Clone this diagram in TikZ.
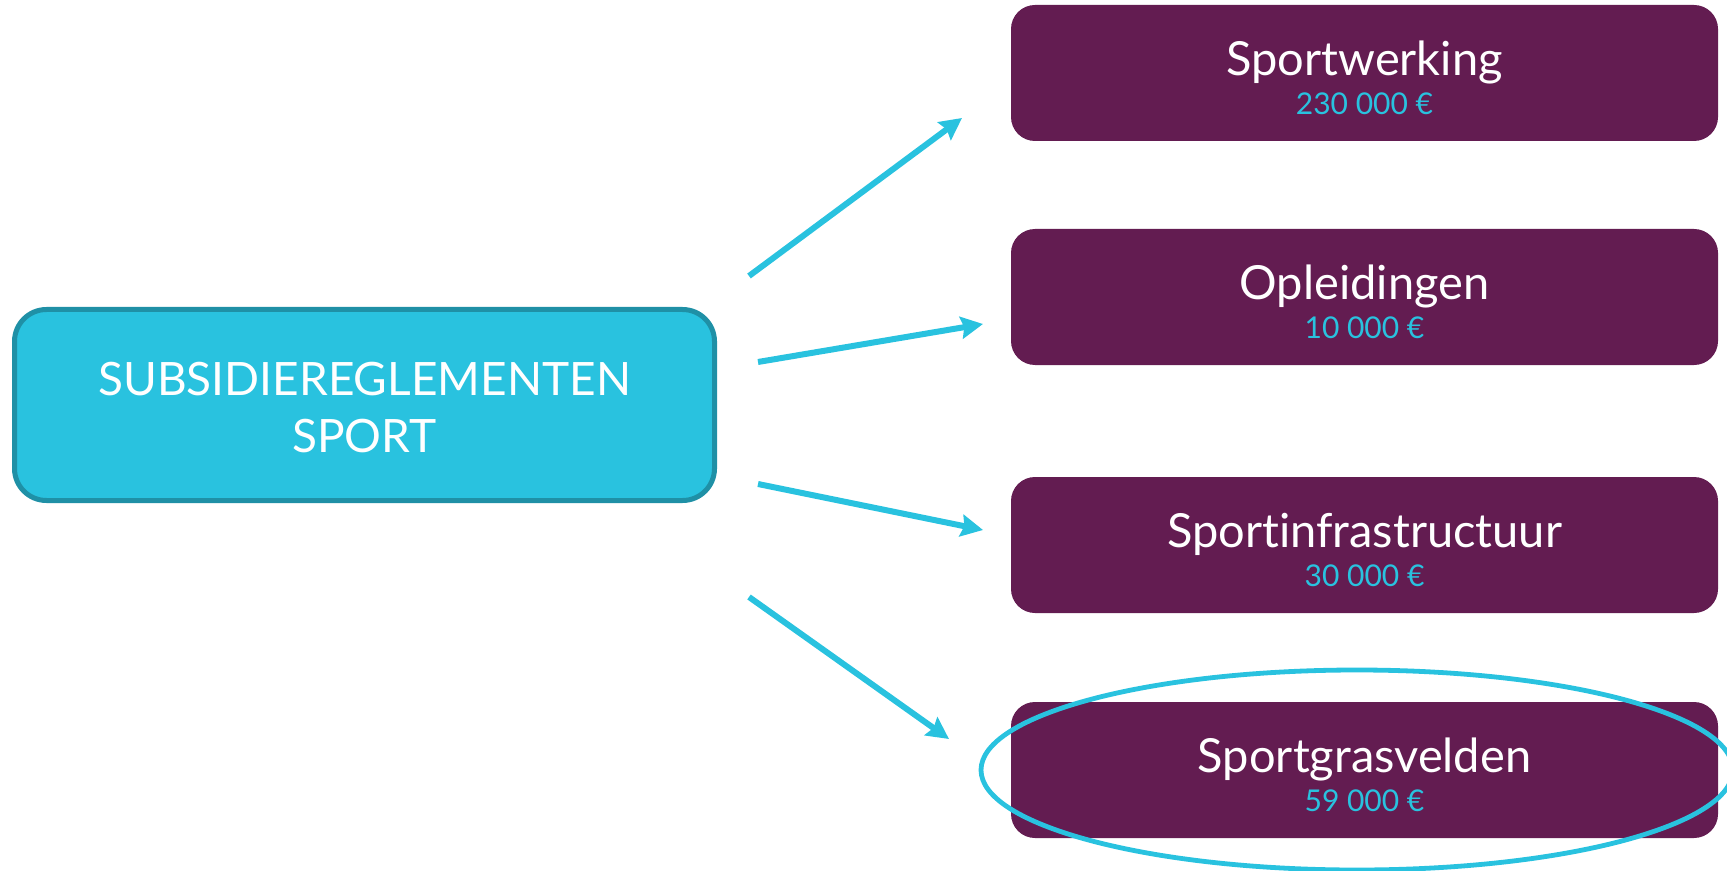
\documentclass[tikz,border=0pt]{standalone}
\usepackage{fontspec}
\setmainfont{Lato}[Ligatures=NoCommon]
\usetikzlibrary{arrows.meta}
\definecolor{plum}{RGB}{99,28,81}
\definecolor{sky}{RGB}{41,194,223}
\definecolor{skyline}{RGB}{31,144,166}
\newcommand{\bedrag}[1]{{\color{sky}\fontsize{15}{19.5}\selectfont #1}}

\begin{document}
\begin{tikzpicture}[x=0.5pt, y=-0.5pt,
  reglement/.style={fill=sky, draw=skyline, line width=2.5pt, rounded corners=16pt, minimum width=350pt, minimum height=95.5pt, text=white, align=center, font=\fontsize{23}{28.5}\selectfont},
  budget/.style={fill=plum, rounded corners=12pt, minimum width=353.5pt, minimum height=68pt, text=white, align=center, font=\fontsize{23.5}{19.5}\selectfont},
  pijl/.style={draw=sky, line width=3pt, -{Stealth[length=11pt, width=11pt, inset=1.5pt]}},
  ring/.style={draw=sky, line width=2.4pt}]
  \useasboundingbox (0, 0) rectangle (1727, 871);
  \node[reglement] (sport) at (364.5, 405) {\rule{0pt}{19.5pt}SUBSIDIEREGLEMENTEN\\SPORT};
  \node[budget] (werking) at (1364.5, 73) {\rule{0pt}{22pt}Sportwerking\\\bedrag{230 000 €}};
  \node[budget] (opleiding) at (1364.5, 297) {\rule{0pt}{22pt}Opleidingen\\\bedrag{10 000 €}};
  \node[budget] (infra) at (1364.5, 545) {\rule{0pt}{22pt}Sportinfrastructuur\\\bedrag{30 000 €}};
  \node[budget] (gras) at (1364.5, 770) {\rule{0pt}{22pt}Sportgrasvelden\\\bedrag{59 000 €}};
  \coordinate (werkingVan) at (749, 276);
  \coordinate (werkingNaar) at (962, 118);
  \coordinate (opleidingVan) at (758, 362);
  \coordinate (opleidingNaar) at (983, 324);
  \coordinate (infraVan) at (758, 484);
  \coordinate (infraNaar) at (983, 530);
  \coordinate (grasVan) at (749, 597);
  \coordinate (grasNaar) at (949, 739);
  \draw[pijl] (werkingVan) -- (werkingNaar);
  \draw[pijl] (opleidingVan) -- (opleidingNaar);
  \draw[pijl] (infraVan) -- (infraNaar);
  \draw[pijl] (grasVan) -- (grasNaar);
  \draw[ring] (1357, 770) ellipse [x radius=376, y radius=100];
\end{tikzpicture}
\end{document}
